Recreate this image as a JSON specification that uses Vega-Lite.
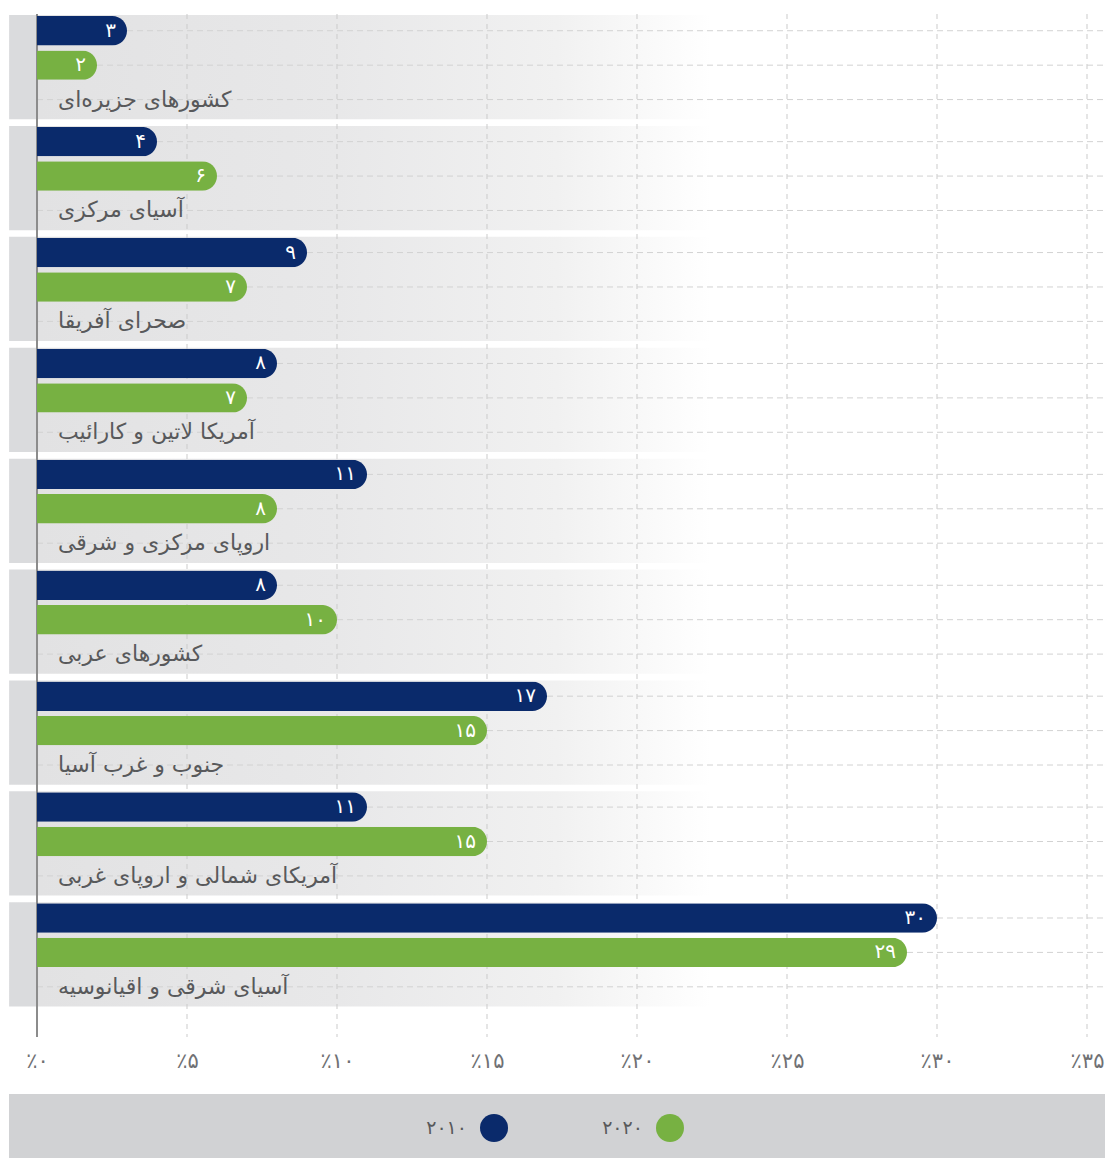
{
  "$schema": "https://vega.github.io/schema/vega-lite/v6.json",
  "autosize": {"type": "pad"},
  "padding": {"left": 9, "top": 13, "right": 0, "bottom": 0},
  "background": "white",
  "config": {"font": "DejaVu Sans", "view": {"stroke": null}, "concat": {"spacing": 23}},
  "datasets": {
    "rows": [
      {"region": "کشورهای جزیره\u200cای", "slot": "2010", "value": 3, "text": "۳"},
      {"region": "کشورهای جزیره\u200cای", "slot": "2020", "value": 2, "text": "۲"},
      {"region": "کشورهای جزیره\u200cای", "slot": "name", "value": null, "text": "کشورهای جزیره\u200cای"},
      {"region": "آسیای مرکزی", "slot": "2010", "value": 4, "text": "۴"},
      {"region": "آسیای مرکزی", "slot": "2020", "value": 6, "text": "۶"},
      {"region": "آسیای مرکزی", "slot": "name", "value": null, "text": "آسیای مرکزی"},
      {"region": "صحرای آفریقا", "slot": "2010", "value": 9, "text": "۹"},
      {"region": "صحرای آفریقا", "slot": "2020", "value": 7, "text": "۷"},
      {"region": "صحرای آفریقا", "slot": "name", "value": null, "text": "صحرای آفریقا"},
      {"region": "آمریکا لاتین و کارائیب", "slot": "2010", "value": 8, "text": "۸"},
      {"region": "آمریکا لاتین و کارائیب", "slot": "2020", "value": 7, "text": "۷"},
      {"region": "آمریکا لاتین و کارائیب", "slot": "name", "value": null, "text": "آمریکا لاتین و کارائیب"},
      {"region": "اروپای مرکزی و شرقی", "slot": "2010", "value": 11, "text": "۱۱"},
      {"region": "اروپای مرکزی و شرقی", "slot": "2020", "value": 8, "text": "۸"},
      {"region": "اروپای مرکزی و شرقی", "slot": "name", "value": null, "text": "اروپای مرکزی و شرقی"},
      {"region": "کشورهای عربی", "slot": "2010", "value": 8, "text": "۸"},
      {"region": "کشورهای عربی", "slot": "2020", "value": 10, "text": "۱۰"},
      {"region": "کشورهای عربی", "slot": "name", "value": null, "text": "کشورهای عربی"},
      {"region": "جنوب و غرب آسیا", "slot": "2010", "value": 17, "text": "۱۷"},
      {"region": "جنوب و غرب آسیا", "slot": "2020", "value": 15, "text": "۱۵"},
      {"region": "جنوب و غرب آسیا", "slot": "name", "value": null, "text": "جنوب و غرب آسیا"},
      {"region": "آمریکای شمالی و اروپای غربی", "slot": "2010", "value": 11, "text": "۱۱"},
      {"region": "آمریکای شمالی و اروپای غربی", "slot": "2020", "value": 15, "text": "۱۵"},
      {"region": "آمریکای شمالی و اروپای غربی", "slot": "name", "value": null, "text": "آمریکای شمالی و اروپای غربی"},
      {"region": "آسیای شرقی و اقیانوسیه", "slot": "2010", "value": 30, "text": "۳۰"},
      {"region": "آسیای شرقی و اقیانوسیه", "slot": "2020", "value": 29, "text": "۲۹"},
      {"region": "آسیای شرقی و اقیانوسیه", "slot": "name", "value": null, "text": "آسیای شرقی و اقیانوسیه"}
    ],
    "ticks": [{"t": 5}, {"t": 10}, {"t": 15}, {"t": 20}, {"t": 25}, {"t": 30}, {"t": 35}],
    "legend": [{"year": 2010, "slot": "2010", "text": "۲۰۱۰"}, {"year": 2020, "slot": "2020", "text": "۲۰۲۰"}]
  },
  "vconcat": [
    {
      "width": 1050,
      "height": 1023,
      "layer": [
        {
          "data": {"name": "rows"},
          "transform": [{"filter": "datum.slot === 'name'"}],
          "mark": {
            "type": "rect",
            "fill": {
              "gradient": "linear", "x1": 0, "x2": 1, "y1": 0, "y2": 0,
              "stops": [
                {"offset": 0, "color": "#dadbdd"},
                {"offset": 0.025, "color": "#dadbdd"},
                {"offset": 0.027, "color": "#e2e2e3"},
                {"offset": 0.3, "color": "#e8e8e9"},
                {"offset": 0.5, "color": "#f1f1f1"},
                {"offset": 0.64, "color": "#ffffff"},
                {"offset": 1, "color": "#ffffff"}
              ]
            }
          },
          "encoding": {
            "y": {
              "field": "region", "type": "nominal", "sort": null, "axis": null,
              "scale": {"paddingInner": 0.06, "paddingOuter": 0.142, "align": 0.032}
            },
            "x": {"datum": -0.93, "type": "quantitative", "scale": {"domain": [0, 35], "nice": false},
              "axis": {"values": [0, 5, 10, 15, 20, 25, 30, 35], "grid": false, "ticks": false, "domain": false, "title": null, "labelFontSize": 21, "labelColor": "#707174", "labelPadding": 13, "labelFlush": false, "labelOverlap": false, "labelExpr": "'٪' + replace(replace(replace(replace(replace(datum.label, '0', '۰'), '1', '۱'), '2', '۲'), '3', '۳'), '5', '۵')"}},
            "x2": {"datum": 35.6}
          }
        },
        {
          "data": {"name": "ticks"},
          "mark": {"type": "rule", "stroke": "#cbcbcb", "strokeWidth": 1, "strokeDash": [5, 5]},
          "encoding": {
            "x": {"field": "t", "type": "quantitative", "scale": {"domain": [0, 35], "nice": false},
              "axis": {"values": [0, 5, 10, 15, 20, 25, 30, 35], "grid": false, "ticks": false, "domain": false, "title": null, "labelFontSize": 21, "labelColor": "#707174", "labelPadding": 13, "labelFlush": false, "labelOverlap": false, "labelExpr": "'٪' + replace(replace(replace(replace(replace(datum.label, '0', '۰'), '1', '۱'), '2', '۲'), '3', '۳'), '5', '۵')"}}
          }
        },
        {
          "data": {"name": "rows"},
          "mark": {"type": "rule", "stroke": "#d2d2d2", "strokeWidth": 1, "strokeDash": [6, 4]},
          "encoding": {
            "y": {"field": "region", "type": "nominal", "sort": null, "axis": null},
            "yOffset": {"field": "slot", "type": "nominal", "scale": {"domain": ["2010", "2020", "name"], "paddingInner": 0.145, "paddingOuter": 0.087, "align": 0.17}},
            "x": {"datum": 0, "type": "quantitative", "scale": {"domain": [0, 35], "nice": false},
              "axis": {"values": [0, 5, 10, 15, 20, 25, 30, 35], "grid": false, "ticks": false, "domain": false, "title": null, "labelFontSize": 21, "labelColor": "#707174", "labelPadding": 13, "labelFlush": false, "labelOverlap": false, "labelExpr": "'٪' + replace(replace(replace(replace(replace(datum.label, '0', '۰'), '1', '۱'), '2', '۲'), '3', '۳'), '5', '۵')"}},
            "x2": {"datum": 35.6}
          }
        },
        {
          "data": {"values": [{}]},
          "mark": {"type": "rule", "stroke": "#8c8c8c", "strokeWidth": 2},
          "encoding": {
            "x": {"datum": 0, "type": "quantitative", "scale": {"domain": [0, 35], "nice": false},
              "axis": {"values": [0, 5, 10, 15, 20, 25, 30, 35], "grid": false, "ticks": false, "domain": false, "title": null, "labelFontSize": 21, "labelColor": "#707174", "labelPadding": 13, "labelFlush": false, "labelOverlap": false, "labelExpr": "'٪' + replace(replace(replace(replace(replace(datum.label, '0', '۰'), '1', '۱'), '2', '۲'), '3', '۳'), '5', '۵')"}}
          }
        },
        {
          "data": {"name": "rows"},
          "transform": [{"filter": "datum.slot !== 'name'"}],
          "mark": {"type": "bar", "cornerRadiusEnd": 14.7},
          "encoding": {
            "y": {"field": "region", "type": "nominal", "sort": null, "axis": null},
            "yOffset": {"field": "slot", "type": "nominal", "scale": {"domain": ["2010", "2020", "name"], "paddingInner": 0.145, "paddingOuter": 0.087, "align": 0.17}},
            "x": {"field": "value", "type": "quantitative", "scale": {"domain": [0, 35], "nice": false},
              "axis": {"values": [0, 5, 10, 15, 20, 25, 30, 35], "grid": false, "ticks": false, "domain": false, "title": null, "labelFontSize": 21, "labelColor": "#707174", "labelPadding": 13, "labelFlush": false, "labelOverlap": false, "labelExpr": "'٪' + replace(replace(replace(replace(replace(datum.label, '0', '۰'), '1', '۱'), '2', '۲'), '3', '۳'), '5', '۵')"}},
            "color": {"field": "slot", "type": "nominal", "scale": {"domain": ["2010", "2020"], "range": ["#0a2a6b", "#77b142"]}, "legend": null}
          }
        },
        {
          "data": {"name": "rows"},
          "transform": [{"filter": "datum.slot !== 'name'"}],
          "mark": {"type": "text", "align": "right", "baseline": "middle", "dx": -11, "fontSize": 20, "fill": "#ffffff"},
          "encoding": {
            "y": {"field": "region", "type": "nominal", "sort": null, "axis": null},
            "yOffset": {"field": "slot", "type": "nominal"},
            "x": {"field": "value", "type": "quantitative",
              "axis": {"values": [0, 5, 10, 15, 20, 25, 30, 35], "grid": false, "ticks": false, "domain": false, "title": null, "labelFontSize": 21, "labelColor": "#707174", "labelPadding": 13, "labelFlush": false, "labelOverlap": false, "labelExpr": "'٪' + replace(replace(replace(replace(replace(datum.label, '0', '۰'), '1', '۱'), '2', '۲'), '3', '۳'), '5', '۵')"}},
            "text": {"field": "text"}
          }
        },
        {
          "data": {"name": "rows"},
          "transform": [{"filter": "datum.slot === 'name'"}],
          "mark": {"type": "text", "align": "left", "baseline": "middle", "dx": 21, "fontSize": 22, "fill": "#58595b"},
          "encoding": {
            "y": {"field": "region", "type": "nominal", "sort": null, "axis": null},
            "yOffset": {"field": "slot", "type": "nominal"},
            "x": {"datum": 0, "type": "quantitative",
              "axis": {"values": [0, 5, 10, 15, 20, 25, 30, 35], "grid": false, "ticks": false, "domain": false, "title": null, "labelFontSize": 21, "labelColor": "#707174", "labelPadding": 13, "labelFlush": false, "labelOverlap": false, "labelExpr": "'٪' + replace(replace(replace(replace(replace(datum.label, '0', '۰'), '1', '۱'), '2', '۲'), '3', '۳'), '5', '۵')"}},
            "text": {"field": "text"}
          }
        }
      ]
    },
    {
      "width": 1068,
      "height": 68,
      "layer": [
        {
          "data": {"values": [{}]},
          "mark": {"type": "rect", "fill": "#d1d2d4"},
          "encoding": {
            "x": {"datum": 1982.44, "type": "quantitative", "scale": {"domain": [1984.03, 2044.72], "nice": false, "zero": false}, "axis": null},
            "x2": {"datum": 2044.72}
          }
        },
        {
          "data": {"name": "legend"},
          "mark": {"type": "circle", "size": 784, "opacity": 1},
          "encoding": {
            "x": {"field": "year", "type": "quantitative", "axis": null},
            "color": {"field": "slot", "type": "nominal", "legend": null}
          }
        },
        {
          "data": {"name": "legend"},
          "mark": {"type": "text", "align": "right", "baseline": "middle", "dx": -27, "fontSize": 19, "fill": "#58595b"},
          "encoding": {
            "x": {"field": "year", "type": "quantitative", "axis": null},
            "text": {"field": "text"}
          }
        }
      ]
    }
  ]
}
